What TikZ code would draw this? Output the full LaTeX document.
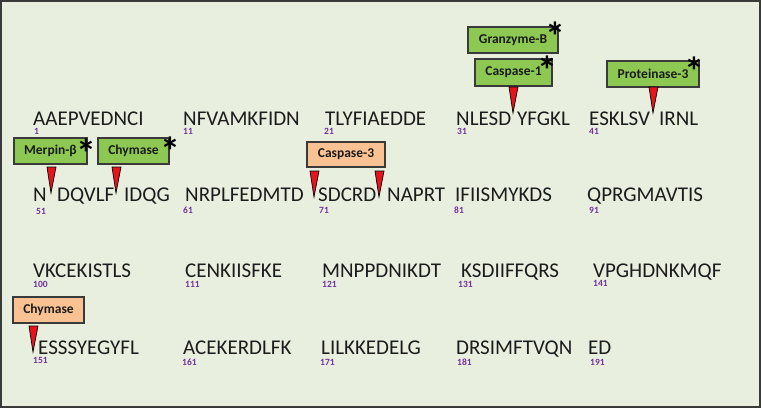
\documentclass[tikz,border=0pt]{standalone}
\usepackage{fontspec}
\setmainfont{Carlito}
\usetikzlibrary{positioning}
\definecolor{PanelBg}{HTML}{E9EFDF}
\definecolor{FrameGray}{HTML}{3A3A3A}
\definecolor{EnzGreen}{HTML}{8DC853}
\definecolor{EnzPeach}{HTML}{FAC192}
\definecolor{CutRed}{HTML}{E8141C}
\definecolor{NumPurple}{HTML}{7030A0}
\definecolor{SeqInk}{HTML}{1C1C1C}

\begin{document}
\begin{tikzpicture}[x=1pt,y=-1pt,
    seq/.style={anchor=base west,inner sep=0pt,text=SeqInk,font=\fontsize{21}{25}\selectfont},
    num/.style={anchor=base west,inner sep=0pt,text=NumPurple,font=\fontsize{9.5}{10}\selectfont\bfseries},
    enz/.style={draw=FrameGray,line width=1.1pt,fill=EnzGreen,minimum height=26pt,inner sep=0pt,text=SeqInk,font=\fontsize{13.5}{15}\selectfont\bfseries},
    star/.style={anchor=north,inner sep=0pt,font=\fontsize{40}{40}\selectfont\bfseries},
    cleave/.pic={\filldraw[fill=CutRed,draw=black,line width=.7pt] (-4,-26) -- (5,-26) -- (0,0) -- cycle;}]
    \useasboundingbox (0,0) rectangle (761,408);
    \draw[FrameGray,line width=2pt,fill=PanelBg] (1,1) rectangle (760,407);
    % row 1
    \node[seq] (r1a) at (33,125) {AAEPVEDNCI}; \node[num] (n1) at (34,134) {1};
    \node[seq] (r1b) at (183,125) {NFVAMKFIDN}; \node[num] (n11) at (183,134) {11};
    \node[seq] (r1c) at (325,125) {TLYFIAEDDE}; \node[num] (n21) at (324,134) {21};
    \node[seq] (r1d) at (456,125) {NLESD}; \node[seq] (r1e) at (517,125) {YFGKL}; \node[num] (n31) at (457,134) {31};
    \node[seq] (r1f) at (589,125) {ESKLSV}; \node[seq] (r1g) at (659,125) {IRNL}; \node[num] (n41) at (589,134) {41};
    % row 2
    \node[seq] (r2a) at (33,201) {N}; \node[seq] (r2b) at (57,201) {DQVLF}; \node[seq] (r2c) at (124,201) {IDQG}; \node[num] (n51) at (36,214) {51};
    \node[seq] (r2d) at (185,201) {NRPLFEDMTD}; \node[num] (n61) at (183,213) {61};
    \node[seq] (r2e) at (318,201) {SDCRD}; \node[seq] (r2f) at (387,201) {NAPRT}; \node[num] (n71) at (319,213) {71};
    \node[seq] (r2g) at (455,201) {IFIISMYKDS}; \node[num] (n81) at (454,213) {81};
    \node[seq] (r2h) at (587,201) {QPRGMAVTIS}; \node[num] (n91) at (589,213) {91};
    % row 3
    \node[seq] (r3a) at (33,277) {VKCEKISTLS}; \node[num] (n100) at (33,287) {100};
    \node[seq] (r3b) at (185,277) {CENKIISFKE}; \node[num] (n111) at (185,287) {111};
    \node[seq] (r3c) at (322,277) {MNPPDNIKDT}; \node[num] (n121) at (322,287) {121};
    \node[seq] (r3d) at (461,277) {KSDIIFFQRS}; \node[num] (n131) at (458,287) {131};
    \node[seq] (r3e) at (593,277) {VPGHDNKMQF}; \node[num] (n141) at (593,286) {141};
    % row 4
    \node[seq] (r4a) at (38,354) {ESSSYEGYFL}; \node[num] (n151) at (33,363) {151};
    \node[seq] (r4b) at (183,354) {ACEKERDLFK}; \node[num] (n161) at (182,365) {161};
    \node[seq] (r4c) at (321,354) {LILKKEDELG}; \node[num] (n171) at (320,365) {171};
    \node[seq] (r4d) at (456,354) {DRSIMFTVQN}; \node[num] (n181) at (457,365) {181};
    \node[seq] (r4e) at (588,354) {ED}; \node[num] (n191) at (590,365) {191};
    % enzymes
    \node[enz,minimum width=90pt] (granz) at (513,40) {Granzyme-B};
    \node[enz,minimum width=77pt,minimum height=27pt] (casp1) at (513.5,72.5) {Caspase-1};
    \node[enz,minimum width=92pt] (prot3) at (653,74) {Proteinase-3};
    \node[enz,minimum width=73pt] (merpin) at (50.5,151) {Merpin-β};
    \node[enz,minimum width=71pt] (chymA) at (133.5,151) {Chymase};
    \node[enz,minimum width=78pt,minimum height=25pt,fill=EnzPeach] (casp3) at (346,154.5) {Caspase-3};
    \node[enz,minimum width=71pt,fill=EnzPeach] (chymB) at (48.5,310) {Chymase};
    \node[star] (sgranz) at (555,22) {*}; \node[star] (scasp1) at (547,56) {*};
    \node[star] (sprot3) at (694,57) {*}; \node[star] (smerpin) at (86,139) {*};
    \node[star] (schymA) at (170,137) {*};
    % cleavage sites
    \pic at (513,113) {cleave}; \pic at (653,113) {cleave};
    \pic at (51,193) {cleave}; \pic at (116,193) {cleave};
    \pic at (314,197) {cleave}; \pic at (379,197) {cleave};
    \pic at (33,352) {cleave};
  \end{tikzpicture}
\end{document}
